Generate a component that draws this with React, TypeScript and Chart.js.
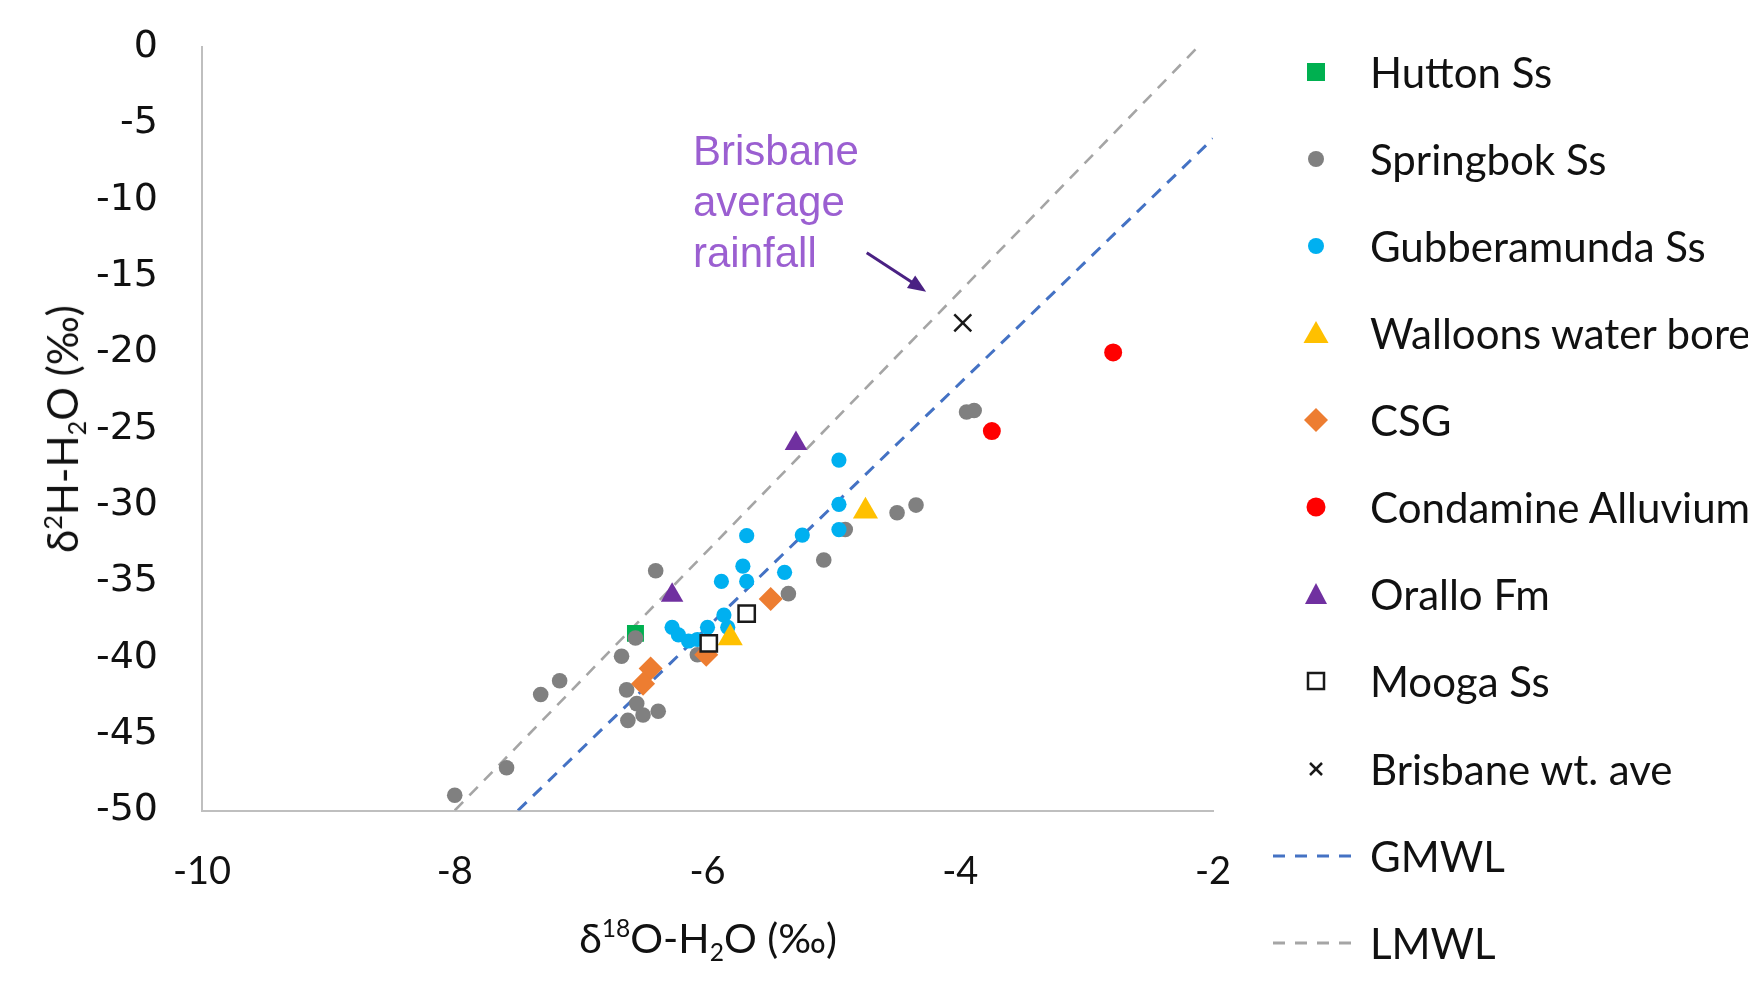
import React, { useEffect, useRef } from "react";
import { Chart, registerables } from "chart.js";

Chart.register(...registerables);

// ---------------- data (δ18O, δ2H) ----------------
const seriesNames = [
  "Hutton Ss",
  "Springbok Ss",
  "Gubberamunda Ss",
  "Walloons water bore",
  "CSG",
  "Condamine Alluvium",
  "Orallo Fm",
  "Mooga Ss",
  "Brisbane wt. ave",
  "GMWL",
  "LMWL",
];

const huttonX = [-6.57];
const huttonY = [-38.4];

const springbokX = [-8.0, -7.59, -7.32, -7.17, -6.68, -6.57, -6.41, -6.64, -6.56, -6.51, -6.39, -6.63, -6.08, -5.36, -5.08, -4.91, -4.5, -4.35, -3.95, -3.89];
const springbokY = [-49.0, -47.2, -42.4, -41.5, -39.9, -38.7, -34.3, -42.1, -43.0, -43.75, -43.5, -44.1, -39.8, -35.8, -33.6, -31.6, -30.5, -30.0, -23.9, -23.8];

const gubberX = [-4.96, -4.96, -4.96, -5.25, -5.39, -5.69, -5.72, -5.69, -5.89, -5.87, -5.84, -6.0, -6.28, -6.23, -6.15, -6.08];
const gubberY = [-27.05, -29.95, -31.6, -31.96, -34.4, -32.0, -34.0, -35.0, -35.0, -37.2, -38.0, -38.0, -38.0, -38.5, -38.9, -38.8];

const walloonsX = [-4.75, -5.82];
const walloonsY = [-30.4, -38.7];

const csgX = [-5.5, -6.01, -6.45, -6.51];
const csgY = [-36.15, -39.8, -40.7, -41.7];

const condamineX = [-2.79, -3.75];
const condamineY = [-20.0, -25.15];

const oralloX = [-5.3, -6.28];
const oralloY = [-25.96, -35.9];

const moogaX = [-5.69, -5.99];
const moogaY = [-37.1, -39.06];

const brisbaneX = [-3.98];
const brisbaneY = [-18.07];

const gmwlX = [-7.5, -2];
const gmwlY = [-50, -6];

const lmwlX = [-8, -2.12];
const lmwlY = [-50, 0];

const xMin = -10, xMax = -2, xStep = 2;
const yMin = -50, yMax = 0, yStep = 5;

// annotation arrow (data coordinates)
const arrowTail = { x: -4.74, y: -13.47 };
const arrowHead = { x: -4.27, y: -16.02 };
const annotationLines = ["Brisbane", "average", "rainfall"];

// ---------------- styles ----------------
const COLORS = {
  hutton: "#00B050",
  springbok: "#808080",
  gubber: "#00B0F0",
  walloons: "#FFC000",
  csg: "#ED7D31",
  condamine: "#FF0000",
  orallo: "#7030A0",
  mooga: "#1a1a1a",
  brisbane: "#1a1a1a",
  gmwl: "#4472C4",
  lmwl: "#A5A5A5",
};

const toPoints = (xs: number[], ys: number[]) => xs.map((x, i) => ({ x, y: ys[i] }));

const arrowPlugin = {
  id: "annotArrow",
  afterDatasetsDraw(chart: any) {
    const { ctx } = chart;
    const xs = chart.scales.x;
    const ys = chart.scales.y;
    const x1 = xs.getPixelForValue(arrowTail.x);
    const y1 = ys.getPixelForValue(arrowTail.y);
    const x2 = xs.getPixelForValue(arrowHead.x);
    const y2 = ys.getPixelForValue(arrowHead.y);
    const a = Math.atan2(y2 - y1, x2 - x1);
    const hl = 18, hw = 7.5;
    const bx = x2 - hl * Math.cos(a);
    const by = y2 - hl * Math.sin(a);
    ctx.save();
    ctx.strokeStyle = "#4A2183";
    ctx.fillStyle = "#4A2183";
    ctx.lineWidth = 3;
    ctx.beginPath();
    ctx.moveTo(x1, y1);
    ctx.lineTo(bx + 2 * Math.cos(a), by + 2 * Math.sin(a));
    ctx.stroke();
    ctx.beginPath();
    ctx.moveTo(x2, y2);
    ctx.lineTo(bx + hw * Math.sin(a), by - hw * Math.cos(a));
    ctx.lineTo(bx - hw * Math.sin(a), by + hw * Math.cos(a));
    ctx.closePath();
    ctx.fill();
    ctx.restore();
  },
};

function LegendMarker({ kind, color }: { kind: string; color: string }) {
  if (kind === "dash") {
    return (
      <svg width={80} height={10} style={{ display: "block" }}>
        <line x1={0} y1={5} x2={80} y2={5} stroke={color} strokeWidth={3} strokeDasharray="12 10" />
      </svg>
    );
  }
  let shape: any = null;
  if (kind === "rect") shape = <rect x={6} y={6} width={18} height={18} fill={color} />;
  if (kind === "circle") shape = <circle cx={15} cy={15} r={8} fill={color} />;
  if (kind === "circleL") shape = <circle cx={15} cy={15} r={9.5} fill={color} />;
  if (kind === "triangle") shape = <polygon points="15,3 27.5,25 2.5,25" fill={color} />;
  if (kind === "triangleS") shape = <polygon points="15,4 26,25 4,25" fill={color} />;
  if (kind === "diamond") shape = <polygon points="15,3 27,15 15,27 3,15" fill={color} />;
  if (kind === "openRect") shape = <rect x={7} y={7} width={16} height={16} fill="#fff" stroke={color} strokeWidth={2.5} />;
  if (kind === "cross")
    shape = (
      <g stroke={color} strokeWidth={2.5}>
        <line x1={9} y1={9} x2={21} y2={21} />
        <line x1={21} y1={9} x2={9} y2={21} />
      </g>
    );
  return (
    <svg width={30} height={30} style={{ display: "block" }}>
      {shape}
    </svg>
  );
}

const legendKinds = ["rect", "circle", "circle", "triangle", "diamond", "circleL", "triangleS", "openRect", "cross", "dash", "dash"];
const legendColors = [COLORS.hutton, COLORS.springbok, COLORS.gubber, COLORS.walloons, COLORS.csg, COLORS.condamine, COLORS.orallo, COLORS.mooga, COLORS.brisbane, COLORS.gmwl, COLORS.lmwl];

const LEGEND_TOP = 71.7;
const LEGEND_STEP = 87.1;
const LEGEND_MARKER_X = 1316;
const LEGEND_TEXT_X = 1370;

const TEXT_COLOR = "#111111";

export default function App() {
  const canvasRef = useRef<HTMLCanvasElement | null>(null);

  useEffect(() => {
    const canvas = canvasRef.current;
    if (!canvas) return;
    const pointDs = (label: string, xs: number[], ys: number[], extra: any) => ({
      type: "scatter",
      label,
      data: toPoints(xs, ys),
      showLine: false,
      borderWidth: 0,
      ...extra,
    });
    const lineDs = (label: string, xs: number[], ys: number[], color: string, width: number, order: number) => ({
      type: "scatter",
      label,
      data: toPoints(xs, ys),
      showLine: true,
      pointRadius: 0,
      borderColor: color,
      backgroundColor: color,
      borderWidth: width,
      borderDash: [12, 9],
      fill: false,
      order,
    });

    const chart = new Chart(canvas, {
      type: "scatter",
      data: {
        datasets: [
          pointDs(seriesNames[0], huttonX, huttonY, { pointStyle: "rect", pointRadius: 12, backgroundColor: COLORS.hutton, order: 9 }),
          pointDs(seriesNames[1], springbokX, springbokY, { pointStyle: "circle", pointRadius: 7.8, backgroundColor: COLORS.springbok, order: 8 }),
          pointDs(seriesNames[2], gubberX, gubberY, { pointStyle: "circle", pointRadius: 7.6, backgroundColor: COLORS.gubber, order: 7 }),
          pointDs(seriesNames[3], walloonsX, walloonsY, { pointStyle: "triangle", pointRadius: 14.5, backgroundColor: COLORS.walloons, order: 6 }),
          pointDs(seriesNames[4], csgX, csgY, { pointStyle: "rectRot", pointRadius: 12, backgroundColor: COLORS.csg, order: 5 }),
          pointDs(seriesNames[5], condamineX, condamineY, { pointStyle: "circle", pointRadius: 9, backgroundColor: COLORS.condamine, order: 4 }),
          pointDs(seriesNames[6], oralloX, oralloY, { pointStyle: "triangle", pointRadius: 13, backgroundColor: COLORS.orallo, order: 3 }),
          pointDs(seriesNames[7], moogaX, moogaY, { pointStyle: "rect", pointRadius: 11.5, backgroundColor: "#ffffff", borderColor: COLORS.mooga, borderWidth: 2.5, order: 2 }),
          pointDs(seriesNames[8], brisbaneX, brisbaneY, { pointStyle: "crossRot", pointRadius: 12, borderColor: COLORS.brisbane, borderWidth: 2.5, order: 1 }),
          lineDs(seriesNames[9], gmwlX, gmwlY, COLORS.gmwl, 3, 20),
          lineDs(seriesNames[10], lmwlX, lmwlY, COLORS.lmwl, 2.6, 21),
        ] as any,
      },
      options: {
        responsive: false,
        maintainAspectRatio: false,
        devicePixelRatio: 1,
        animation: false,
        events: [],
        layout: { padding: { left: 0, top: 47, right: 535, bottom: 0 } },
        plugins: {
          legend: { display: false },
          tooltip: { enabled: false },
          title: { display: false },
        },
        scales: {
          x: {
            type: "linear",
            position: "bottom",
            min: xMin,
            max: xMax,
            grid: { display: false, drawTicks: false },
            border: { display: true, color: "#BFBFBF", width: 2 },
            ticks: {
              stepSize: xStep,
              padding: 38,
              color: TEXT_COLOR,
              font: { family: "Lato", size: 38 },
            },
            afterFit: (s: any) => {
              s.height = 171.5;
              s.paddingLeft = 0;
              s.paddingRight = 0;
            },
          },
          y: {
            type: "linear",
            position: "left",
            min: yMin,
            max: yMax,
            grid: { display: false, drawTicks: false },
            border: { display: true, color: "#BFBFBF", width: 2 },
            ticks: {
              stepSize: yStep,
              padding: 44,
              color: TEXT_COLOR,
              font: { family: "DejaVu Sans", size: 38 },
            },
            afterFit: (s: any) => {
              s.width = 202;
              s.paddingTop = 0;
              s.paddingBottom = 0;
            },
          },
        },
      },
      plugins: [arrowPlugin],
    } as any);
    return () => chart.destroy();
  }, []);

  return (
    <div
      style={{
        position: "fixed",
        left: 0,
        top: 0,
        width: 1748,
        height: 982,
        overflow: "hidden",
        background: "#ffffff",
        color: TEXT_COLOR,
        fontFamily: "Lato, sans-serif",
      }}
    >
      <canvas ref={canvasRef} width={1748} height={982} style={{ position: "absolute", left: 0, top: 0, width: 1748, height: 982 }} />

      {/* Y axis title */}
      <div
        style={{
          position: "absolute",
          left: 64,
          top: 429,
          transform: "translate(-50%, -50%) rotate(-90deg)",
          whiteSpace: "nowrap",
          fontSize: 42,
          lineHeight: "48px",
        }}
      >
        δ<span style={{ fontSize: "0.6em", verticalAlign: "0.65em" }}>2</span>H-H
        <span style={{ fontSize: "0.6em", verticalAlign: "-0.3em" }}>2</span>O (‰)
      </div>

      {/* X axis title */}
      <div
        style={{
          position: "absolute",
          left: 708,
          top: 940,
          transform: "translate(-50%, -50%)",
          whiteSpace: "nowrap",
          fontSize: 41,
          lineHeight: "48px",
        }}
      >
        δ<span style={{ fontSize: "0.6em", verticalAlign: "0.65em" }}>18</span>O-H
        <span style={{ fontSize: "0.6em", verticalAlign: "-0.3em" }}>2</span>O (‰)
      </div>

      {/* annotation text */}
      <div
        style={{
          position: "absolute",
          left: 693,
          top: 125,
          fontFamily: "'Liberation Sans', Arial, sans-serif",
          fontSize: 42,
          lineHeight: "51px",
          color: "#9B5FD1",
          whiteSpace: "nowrap",
        }}
      >
        {annotationLines.map((t) => (
          <div key={t}>{t}</div>
        ))}
      </div>

      {/* legend */}
      {seriesNames.map((name, i) => {
        const cy = LEGEND_TOP + i * LEGEND_STEP;
        const kind = legendKinds[i];
        const w = kind === "dash" ? 80 : 30;
        const h = kind === "dash" ? 10 : 30;
        return (
          <React.Fragment key={name}>
            <div style={{ position: "absolute", left: kind === "dash" ? 1273 : LEGEND_MARKER_X - w / 2, top: cy - h / 2, width: w, height: h }}>
              <LegendMarker kind={kind} color={legendColors[i]} />
            </div>
            <div
              style={{
                position: "absolute",
                left: LEGEND_TEXT_X,
                top: cy - 25,
                height: 50,
                lineHeight: "50px",
                fontSize: 42,
                whiteSpace: "nowrap",
              }}
            >
              {name}
            </div>
          </React.Fragment>
        );
      })}
    </div>
  );
}
